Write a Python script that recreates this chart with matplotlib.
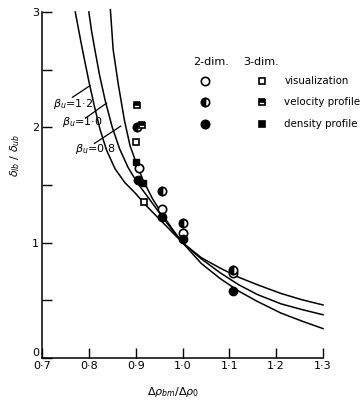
import matplotlib.pyplot as plt

# curves (x = drho_bm/drho_0, y = delta_lb/delta_ub)
beta_labels = ['1·2', '1·0', '0·8']
x_b12 = [0.771, 0.785, 0.800, 0.812, 0.824, 0.838, 0.856, 0.877, 0.899, 0.925, 0.953, 0.977, 1.000,
         1.040, 1.080, 1.120, 1.160, 1.210, 1.255, 1.300]
y_b12 = [3.00, 2.70, 2.40, 2.18, 1.98, 1.80, 1.64, 1.52, 1.43, 1.31, 1.195, 1.095, 1.00,
         0.87, 0.78, 0.70, 0.635, 0.56, 0.505, 0.46]
x_b10 = [0.800, 0.806, 0.813, 0.823, 0.835, 0.850, 0.866, 0.884, 0.905, 0.927, 0.945, 0.963, 0.982, 1.000,
         1.040, 1.080, 1.120, 1.160, 1.210, 1.255, 1.300]
y_b10 = [3.00, 2.83, 2.67, 2.45, 2.23, 2.00, 1.81, 1.65, 1.51, 1.39, 1.29, 1.19, 1.09, 1.00,
         0.86, 0.74, 0.635, 0.55, 0.47, 0.42, 0.375]
x_b08 = [0.846, 0.852, 0.863, 0.876, 0.888, 0.903, 0.916, 0.936, 0.957, 0.978, 1.000,
         1.040, 1.080, 1.120, 1.160, 1.210, 1.255, 1.300]
y_b08 = [3.02, 2.67, 2.37, 2.06, 1.84, 1.67, 1.54, 1.38, 1.245, 1.12, 1.00,
         0.82, 0.69, 0.58, 0.49, 0.39, 0.32, 0.255]

# measurements
vis2_x = [0.908, 0.957, 1.002, 1.107]
vis2_y = [1.65, 1.29, 1.08, 0.74]
vel2_x = [0.903, 0.957, 1.000, 1.107]
vel2_y = [2.00, 1.45, 1.17, 0.76]
den2_x = [0.906, 0.957, 1.000, 1.107]
den2_y = [1.54, 1.22, 1.03, 0.58]
vis3_x = [0.901, 0.918]
vis3_y = [1.87, 1.35]
vel3_x = [0.903, 0.914]
vel3_y = [2.19, 2.02]
den3_x = [0.901, 0.916]
den3_y = [1.70, 1.52]

xticks = [0.7, 0.8, 0.9, 1.0, 1.1, 1.2, 1.3]
xticklabels = ['0·7', '0·8', '0·9', '1·0', '1·1', '1·2', '1·3']

fig = plt.figure(figsize=(3.64, 4.01), dpi=100)
ax = fig.add_axes([0.1154, 0.1072, 0.772, 0.863])

for xs, ys in [(x_b12, y_b12), (x_b10, y_b10), (x_b08, y_b08)]:
    ax.plot(xs, ys, color='black', lw=1.1, clip_on=False)

ms = 6
ax.plot(vis2_x, vis2_y, 'o', ms=ms, mfc='white', mec='black', mew=1.2, clip_on=False)
ax.plot(vel2_x, vel2_y, 'o', ms=ms, fillstyle='left', mfc='black', mfcalt='white', mec='black', mew=1.2, clip_on=False)
ax.plot(den2_x, den2_y, 'o', ms=ms, color='black', clip_on=False)
ax.plot(vis3_x, vis3_y, 's', ms=5, mfc='white', mec='black', mew=1.2, clip_on=False)
ax.plot(vel3_x, vel3_y, 's', ms=5, fillstyle='top', mfc='black', mfcalt='white', mec='black', mew=1.2, clip_on=False)
ax.plot(den3_x, den3_y, 's', ms=5, color='black', clip_on=False)

# beta_u labels with pointer lines
ax.text(0.724, 2.18, r'$\beta_u$=' + beta_labels[0], fontsize=8)
ax.plot([0.765, 0.802], [2.26, 2.36], color='black', lw=0.9)
ax.text(0.743, 2.02, r'$\beta_u$=' + beta_labels[1], fontsize=8)
ax.plot([0.793, 0.838], [2.08, 2.21], color='black', lw=0.9)
ax.text(0.771, 1.79, r'$\beta_u$=' + beta_labels[2], fontsize=8)
ax.plot([0.812, 0.868], [1.86, 2.01], color='black', lw=0.9)

# legend drawn as text
ax.text(0.537, 0.855, '2-dim.', transform=ax.transAxes, fontsize=8, va='center')
ax.text(0.715, 0.855, '3-dim.', transform=ax.transAxes, fontsize=8, va='center')
rows = [0.80, 0.74, 0.676]
names = ['visualization', 'velocity profile', 'density profile']
styles2 = [dict(mfc='white', mec='black'), dict(fillstyle='left', mfc='black', mfcalt='white', mec='black'),
           dict(color='black')]
styles3 = [dict(mfc='white', mec='black'), dict(fillstyle='top', mfc='black', mfcalt='white', mec='black'),
           dict(color='black')]
for r, name, s2, s3 in zip(rows, names, styles2, styles3):
    ax.plot([0.580], [r], 'o', ms=ms, mew=1.2, transform=ax.transAxes, clip_on=False, **s2)
    ax.plot([0.783], [r], 's', ms=5, mew=1.2, transform=ax.transAxes, clip_on=False, **s3)
    ax.text(0.862, r, name, transform=ax.transAxes, fontsize=7.4, va='center', clip_on=False)

ax.set_xlim(0.7, 1.3)
ax.set_ylim(0, 3)
ax.set_xticks(xticks)
ax.set_xticklabels(xticklabels)
ax.set_yticks([0, 0.5, 1, 1.5, 2, 2.5, 3])
ax.set_yticklabels(['0', '', '1', '', '2', '', '3'])
ax.tick_params(direction='in', length=7, width=1, labelsize=8, pad=2)
ax.get_yticklabels()[0].set_va('bottom')
for side in ['top', 'right']:
    ax.spines[side].set_visible(False)
for side in ['left', 'bottom']:
    ax.spines[side].set_linewidth(1.1)

ax.set_xlabel(r'$\Delta\rho_{bm}/\Delta\rho_0$', fontsize=8)
ax.xaxis.set_label_coords(0.466, -0.078)
ax.set_ylabel(r'$\delta_{lb}$ / $\delta_{ub}$', fontsize=8)
ax.yaxis.set_label_coords(-0.07, 0.587)

fig.savefig('out.png', dpi=100)
